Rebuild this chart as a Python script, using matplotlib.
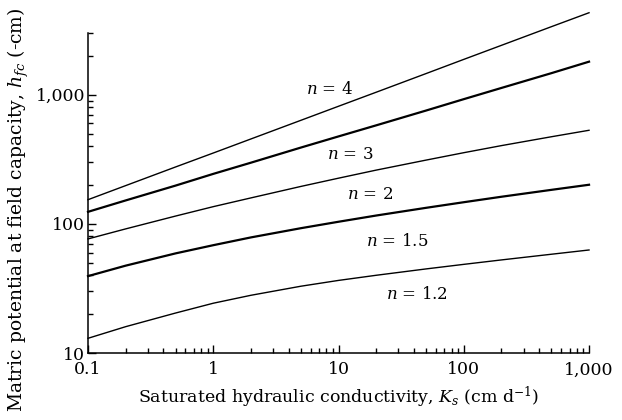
import matplotlib
matplotlib.use("Agg")
import matplotlib.pyplot as plt
from matplotlib.ticker import FixedLocator, LogLocator, NullFormatter
import numpy as np

# Saturated hydraulic conductivity (cm/d)
ks = [0.1, 0.2, 0.5, 1, 2, 5, 10, 20, 50, 100, 200, 500, 1000]

# Matric potential at field capacity (-cm)
h_n4 = [154, 198, 276, 354, 455, 634, 815, 1047, 1460, 1880, 2416, 3367, 4320]
h_n3 = [124, 152, 198, 244, 298, 390, 476, 580, 755, 925, 1130, 1470, 1805]
h_n2 = [76.5, 91.5, 115, 136, 159, 195, 226, 261, 312, 356, 404, 473, 531]
h_n15 = [39.4, 47.5, 59.1, 68.4, 78.6, 92.6, 103.9, 116.1, 133.2, 147.2, 162.3, 183.5, 201]
h_n12 = [13.0, 16.0, 20.4, 24.3, 28.0, 32.9, 36.5, 40.0, 44.8, 48.6, 52.6, 58.2, 62.8]

curves = [
    ("4", h_n4, 1.0, (8.55, 1107)),
    ("3", h_n3, 1.6, (12.4, 345)),
    ("2", h_n2, 1.0, (17.9, 169)),
    ("1.5", h_n15, 1.6, (29.3, 72.8)),
    ("1.2", h_n12, 1.0, (42.4, 28.2)),
]

x_ticks = [0.1, 1, 10, 100, 1000]
x_ticklabels = ["0.1", "1", "10", "100", "1,000"]
y_ticks = [10, 100, 1000]
y_ticklabels = ["10", "100", "1,000"]

plt.rcParams["font.family"] = "DejaVu Serif"
plt.rcParams["mathtext.fontset"] = "dejavuserif"

fig = plt.figure(figsize=(6.22, 4.20), dpi=100)
ax = fig.add_axes([0.1415, 0.1595, 0.8055, 0.7615])

for n, h, lw, pos in curves:
    ax.plot(ks, h, color="black", linewidth=lw, clip_on=False)
    ax.text(pos[0], pos[1], "$n$ = " + n, ha="center", va="center", fontsize=12)

ax.set_xscale("log")
ax.set_yscale("log")
ax.set_xlim(0.1, 1000)
ax.set_ylim(10, 3000)

ax.xaxis.set_major_locator(FixedLocator(x_ticks))
ax.set_xticklabels(x_ticklabels)
ax.yaxis.set_major_locator(FixedLocator(y_ticks))
ax.set_yticklabels(y_ticklabels)
ax.xaxis.set_minor_locator(LogLocator(base=10, subs=np.arange(2, 10)))
ax.yaxis.set_minor_locator(LogLocator(base=10, subs=np.arange(2, 10)))
ax.xaxis.set_minor_formatter(NullFormatter())
ax.yaxis.set_minor_formatter(NullFormatter())

ax.tick_params(which="both", direction="in", labelsize=12.5, width=1)
ax.tick_params(which="major", length=6)
ax.tick_params(which="minor", length=3.5)
ax.tick_params(axis="x", pad=6)
ax.tick_params(axis="y", pad=2)

ax.spines["top"].set_visible(False)
ax.spines["right"].set_visible(False)
ax.spines["left"].set_linewidth(1.1)
ax.spines["bottom"].set_linewidth(1.1)

ax.set_xlabel("Saturated hydraulic conductivity, $K_s$ (cm d$^{-1}$)", fontsize=12.5, labelpad=5)
fig.text(18 / 622, 1 - 210 / 420, "Matric potential at field capacity, $h_{fc}$ (-cm)",
         rotation=90, ha="center", va="center", fontsize=13.5)

fig.savefig("out.png", dpi=100)
